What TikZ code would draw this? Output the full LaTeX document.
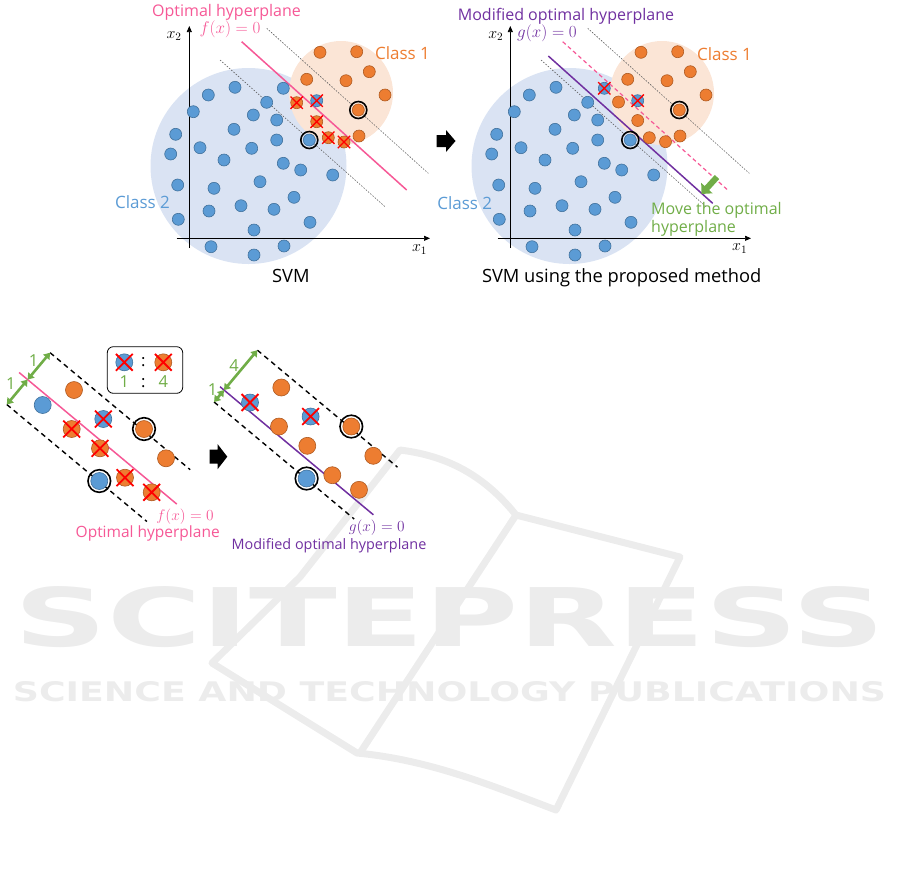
\RequirePackage{fix-cm}
\documentclass[tikz,border=0pt]{standalone}
\usepackage[no-math]{fontspec}
\setmainfont{Open Sans}
\newfontfamily\wmfont{DejaVu Sans}
\usetikzlibrary{shapes.misc, arrows.meta}

\definecolor{ptblue}{RGB}{91,155,213}
\definecolor{ptblueedge}{RGB}{65,113,156}
\definecolor{ptorange}{RGB}{237,125,49}
\definecolor{ptorangeedge}{RGB}{174,90,33}
\definecolor{regblue}{RGB}{218,227,243}
\definecolor{regorange}{RGB}{251,229,214}
\definecolor{hpink}{RGB}{246,88,150}
\definecolor{hpurple}{RGB}{112,48,160}
\definecolor{mgreen}{RGB}{112,173,71}
\definecolor{wmgray}{RGB}{236,236,236}

% data points of the two upper plots
\def\classtwo{208.3/95, 235/87.3, 266.7/102.3, 193.3/111.7, 253.3/115, 276.7/120, 175.7/134.3, 234/129.3, 276.7/140, 200/147.7, 251.7/148.3, 170.7/154, 224/160, 283.3/163.3, 300.7/170, 332.7/175, 260/181.7, 177.7/185, 214/188.3, 294/197.3, 241/205.7, 274/209.3, 209/211, 178.3/219.3, 310/222.3, 254/230, 211/246.7, 284/246, 254/255}
\def\classone{320/52.3, 356.7/51.7, 369.3/71.7, 306.7/79.3, 346/80.7, 385/95, 359/136}

\begin{document}
\begin{tikzpicture}[x=1pt, y=-1pt]
\tikzstyle{bd} = [circle, fill=ptblue, draw=ptblueedge, line width=0.6pt, inner sep=0pt, minimum size=12pt]
\tikzstyle{od} = [circle, fill=ptorange, draw=ptorangeedge, line width=0.6pt, inner sep=0pt, minimum size=12pt]
\tikzstyle{bigbd} = [bd, minimum size=17pt]
\tikzstyle{bigod} = [od, minimum size=17pt]
\tikzstyle{xm} = [cross out, draw=red, line width=1.3pt, inner sep=0pt, minimum size=11pt]
\tikzstyle{bigxm} = [xm, line width=1.8pt, minimum size=15pt]
\tikzstyle{ring} = [circle, draw=black, line width=1.6pt, inner sep=0pt, minimum size=17pt]
\tikzstyle{bigring} = [ring, minimum size=22.6pt]
\tikzstyle{axisline} = [draw=black, line width=0.7pt, -{Triangle[length=6pt, width=5pt]}]
\tikzstyle{margin} = [draw=black!65, line width=0.6pt, dash pattern=on 1.5pt off 1.5pt]
\tikzstyle{bigmargin} = [draw=black, line width=1.4pt, dash pattern=on 5pt off 4pt]
\tikzstyle{garrow} = [draw=mgreen, line width=2.6pt, {Triangle[length=6pt, width=8pt]}-{Triangle[length=6pt, width=8pt]}]
\tikzstyle{lab} = [inner sep=0pt, anchor=base, font=\fontsize{16}{19}\selectfont]
\tikzstyle{eq} = [lab, font=\fontsize{17}{20}\selectfont]
\tikzstyle{axlab} = [inner sep=0pt, font=\fontsize{16}{19}\selectfont]
\tikzstyle{captxt} = [lab, font=\fontsize{18.3}{22}\selectfont]
\tikzstyle{num} = [inner sep=0pt, text=mgreen, font=\fontsize{16.5}{20}\selectfont]
\tikzstyle{wm} = [inner sep=0pt, anchor=base west, text=wmgray, font=\wmfont\bfseries]

\useasboundingbox (0,0) rectangle (901,876);

% watermark
\draw[wmgray, line width=7pt, line join=round] (400,450) -- (300,577) -- (212,663) -- (357,753)
  .. controls (430,760) and (490,785) .. (556,810) -- (680,557) -- (516,515)
  .. controls (480,470) and (440,455) .. cycle;
\draw[wmgray, line width=7pt] (516,515) -- (360,753);
\node[wm] (wm1) at (14.4,646.7) {\resizebox{870pt}{60pt}{SCITEPRESS}};
\node[wm] (wm2) at (12.7,701.7) {\resizebox{873pt}{20pt}{SCIENCE AND TECHNOLOGY PUBLICATIONS}};

% SVM
\fill[regblue] (248.5,166) circle (98);
\fill[regorange] (341,93) circle (52);
\coordinate (yo) at (189.3,248); \coordinate (yt) at (189.3,26);
\coordinate (xo) at (176.7,238.3); \coordinate (xt) at (430,238.3);
\draw[axisline] (yo) -- (yt);
\draw[axisline] (xo) -- (xt);
\coordinate (mu1) at (266.7,28.3); \coordinate (mu2) at (428.3,173.3);
\coordinate (ml1) at (220,60); \coordinate (ml2) at (385,206.7);
\coordinate (hp1) at (241.7,41.7); \coordinate (hp2) at (406.7,190);
\draw[margin] (mu1) -- (mu2);
\draw[margin] (ml1) -- (ml2);
\draw[hpink, line width=1.5pt] (hp1) -- (hp2);
\foreach \x/\y [count=\i] in \classtwo {\node[bd] (b\i) at (\x,\y) {};}
\foreach \x/\y [count=\i] in \classone {\node[od] (o\i) at (\x,\y) {};}
\node[bd] (b30) at (283.3,88.3) {};
\node[bd] (bx1) at (316.7,100.7) {};
\node[xm] (xb1) at (bx1) {};
\node[od] (ox1) at (296.7,102.7) {};
\node[od] (ox2) at (316.7,121.7) {};
\node[od] (ox3) at (328.3,137.7) {};
\node[od] (ox4) at (344,142) {};
\node[xm] (xo1) at (ox1) {};
\node[xm] (xo2) at (ox2) {};
\node[xm] (xo3) at (ox3) {};
\node[xm] (xo4) at (ox4) {};
\node[bd] (bs) at (309.3,140) {};
\node[ring] (rbs) at (bs) {};
\node[od] (os) at (358.3,110) {};
\node[ring] (ros) at (os) {};

% SVM using the proposed method
\begin{scope}[xshift=321pt]
\fill[regblue] (248.5,166) circle (98);
\fill[regorange] (341,93) circle (52);
\coordinate (ryo) at (189.3,248); \coordinate (ryt) at (189.3,26);
\coordinate (rxo) at (176.7,238.3); \coordinate (rxt) at (430,238.3);
\draw[axisline] (ryo) -- (ryt);
\draw[axisline] (rxo) -- (rxt);
\coordinate (rmu1) at (266.7,28.3); \coordinate (rmu2) at (428.3,173.3);
\coordinate (rml1) at (220,60); \coordinate (rml2) at (385,206.7);
\coordinate (rhp1) at (241.7,41.7); \coordinate (rhp2) at (406.7,190);
\coordinate (rgp1) at (227.3,56); \coordinate (rgp2) at (391.7,203.3);
\draw[margin] (rmu1) -- (rmu2);
\draw[margin] (rml1) -- (rml2);
\draw[hpink, line width=1.2pt, dash pattern=on 4pt off 3pt] (rhp1) -- (rhp2);
\draw[hpurple, line width=1.5pt] (rgp1) -- (rgp2);
\foreach \x/\y [count=\i] in \classtwo {\node[bd] (rb\i) at (\x,\y) {};}
\foreach \x/\y [count=\i] in \classone {\node[od] (ro\i) at (\x,\y) {};}
\node[bd] (rbx1) at (283.3,88.3) {};
\node[bd] (rbx2) at (316.7,100.7) {};
\node[xm] (rxb1) at (rbx1) {};
\node[xm] (rxb2) at (rbx2) {};
\node[od] (ro8) at (297.5,102) {};
\node[od] (ro9) at (316.7,120.5) {};
\node[od] (ro10) at (328.3,137.7) {};
\node[od] (ro11) at (344.5,141.7) {};
\node[bd] (rbs) at (309.3,140) {};
\node[ring] (rrbs) at (rbs) {};
\node[od] (ros) at (358.3,110) {};
\node[ring] (rros) at (ros) {};
\end{scope}

\coordinate (mv1) at (717,177); \coordinate (mv2) at (701.5,194);
\draw[mgreen, line width=6pt, -{Triangle[length=8pt, width=15pt]}] (mv1) -- (mv2);
\fill (436.7,135) -- (446,135) -- (446,130) -- (455.5,141) -- (446,152) -- (446,147) -- (436.7,147) -- cycle;

\node[lab, text=hpink] (topt) at (226.5,16.7) {Optimal hyperplane};
\node[eq, text=hpink] (tf) at (230,33.3) {$f(x)=0$};
\node[lab, text=hpurple] (tmod) at (566,20) {Modified optimal hyperplane};
\node[eq, text=hpurple] (tg) at (547,37.3) {$g(x)=0$};
\node[axlab] (x2l) at (174,35.8) {$x_2$};
\node[axlab] (x1l) at (419.5,249.7) {$x_1$};
\node[axlab] (x2r) at (495.8,35.8) {$x_2$};
\node[axlab] (x1r) at (739.7,248.7) {$x_1$};
\node[lab, text=ptorange, font=\fontsize{17}{20}\selectfont] (c1l) at (402.5,59.3) {Class 1};
\node[lab, text=ptorange, font=\fontsize{17}{20}\selectfont] (c1r) at (724.5,60) {Class 1};
\node[lab, text=ptblue, font=\fontsize{17}{20}\selectfont] (c2l) at (142.5,208.3) {Class 2};
\node[lab, text=ptblue, font=\fontsize{17}{20}\selectfont] (c2r) at (464.7,209) {Class 2};
\node[inner sep=0pt, anchor=north west, align=left, text=mgreen, font=\fontsize{16}{18}\selectfont] (tmove) at (651,202.5) {Move the optimal\\hyperplane};
\node[captxt] (svm) at (290.8,282.7) {SVM};
\node[captxt] (svmp) at (621.7,282.7) {SVM using the proposed method};

% margins: 1:1 and 1:4
\coordinate (lu1) at (50.1,352.7); \coordinate (lu2) at (190.2,469.7);
\coordinate (ll1) at (6.8,404.5); \coordinate (ll2) at (146.9,521.5);
\coordinate (lh1) at (19.1,372.5); \coordinate (lh2) at (176.8,504.1);
\coordinate (lha) at (27.6,379.6);
\draw[bigmargin] (lu1) -- (lu2);
\draw[bigmargin] (ll1) -- (ll2);
\draw[hpink, line width=1.5pt] (lh1) -- (lh2);
\draw[garrow] (ll1) -- (lha);
\draw[garrow] (lha) -- (lu1);
\node[num] (n1a) at (10.8,383.8) {1};
\node[num] (n1b) at (33.5,360.8) {1};
\node[bigod] (p1) at (74,390) {};
\node[bigbd] (p2) at (42.7,405) {};
\node[bigbd] (p3) at (103.3,419) {};
\node[bigod] (p4) at (144,429) {};
\node[bigod] (p5) at (71.7,429) {};
\node[bigod] (p6) at (100,448.3) {};
\node[bigod] (p7) at (166,458.3) {};
\node[bigbd] (p8) at (99.3,481) {};
\node[bigod] (p9) at (125,477.7) {};
\node[bigod] (p10) at (151.7,492.3) {};
\node[bigring] (rp4) at (p4) {};
\node[bigring] (rp8) at (p8) {};
\node[bigxm] (xp3) at (p3) {};
\node[bigxm] (xp5) at (p5) {};
\node[bigxm] (xp6) at (p6) {};
\node[bigxm] (xp9) at (p9) {};
\node[bigxm] (xp10) at (p10) {};

\node[draw=black, line width=0.8pt, rounded corners=6pt, minimum width=75.4pt, minimum height=46.6pt] (key) at (145,370) {};
\node[bigbd] (kb) at (124.3,362.3) {};
\node[bigxm] (kbx) at (kb) {};
\node[bigod] (ko) at (163.3,362.3) {};
\node[bigxm] (kox) at (ko) {};
\node[lab, font=\fontsize{16.5}{20}\selectfont] (kc1) at (143.3,366.5) {:};
\node[lab, font=\fontsize{16.5}{20}\selectfont] (kc2) at (143.3,387.3) {:};
\node[lab, text=mgreen, font=\fontsize{16.5}{20}\selectfont] (k1) at (124.3,387.3) {1};
\node[lab, text=mgreen, font=\fontsize{16.5}{20}\selectfont] (k4) at (163.3,387.3) {4};

\fill (209.5,449.5) -- (217.5,449.5) -- (217.5,444) -- (227.3,456.7) -- (217.5,469.3) -- (217.5,463.7) -- (209.5,463.7) -- cycle;

\begin{scope}[shift={(207.3,-2.5)}]
\coordinate (qu1) at (50.1,352.7); \coordinate (qu2) at (190.2,469.7);
\coordinate (ql1) at (6.8,404.5); \coordinate (ql2) at (146.9,521.5);
\coordinate (qg1) at (12.7,389.2); \coordinate (qg2) at (166.1,517.3);
\coordinate (qga) at (16.7,392.6);
\draw[bigmargin] (qu1) -- (qu2);
\draw[bigmargin] (ql1) -- (ql2);
\draw[hpurple, line width=1.5pt] (qg1) -- (qg2);
\draw[garrow] (ql1) -- (qga);
\draw[garrow] (qga) -- (qu1);
\node[num] (m1) at (5.2,391.7) {1};
\node[num] (m4) at (26.9,368.3) {4};
\node[bigod] (q1) at (74,390) {};
\node[bigbd] (q2) at (42.7,405) {};
\node[bigbd] (q3) at (103.3,419) {};
\node[bigod] (q4) at (144,429) {};
\node[bigod] (q5) at (71.7,429) {};
\node[bigod] (q6) at (100,448.3) {};
\node[bigod] (q7) at (166,458.3) {};
\node[bigbd] (q8) at (99.3,481) {};
\node[bigod] (q9) at (125,477.7) {};
\node[bigod] (q10) at (151.7,492.3) {};
\node[bigring] (rq4) at (q4) {};
\node[bigring] (rq8) at (q8) {};
\node[bigxm] (xq2) at (q2) {};
\node[bigxm] (xq3) at (q3) {};
\end{scope}

\node[lab, text=hpink, font=\fontsize{15.4}{18}\selectfont] (lf) at (185,520.5) {$f(x)=0$};
\node[lab, text=hpink, font=\fontsize{15.5}{18}\selectfont] (lopt) at (147.7,537.3) {Optimal hyperplane};
\node[lab, text=hpurple, font=\fontsize{15.4}{18}\selectfont] (lg) at (376.7,531) {$g(x)=0$};
\node[lab, text=hpurple, font=\fontsize{14.4}{17}\selectfont] (lmod) at (329,549) {Modified optimal hyperplane};
\end{tikzpicture}
\end{document}
